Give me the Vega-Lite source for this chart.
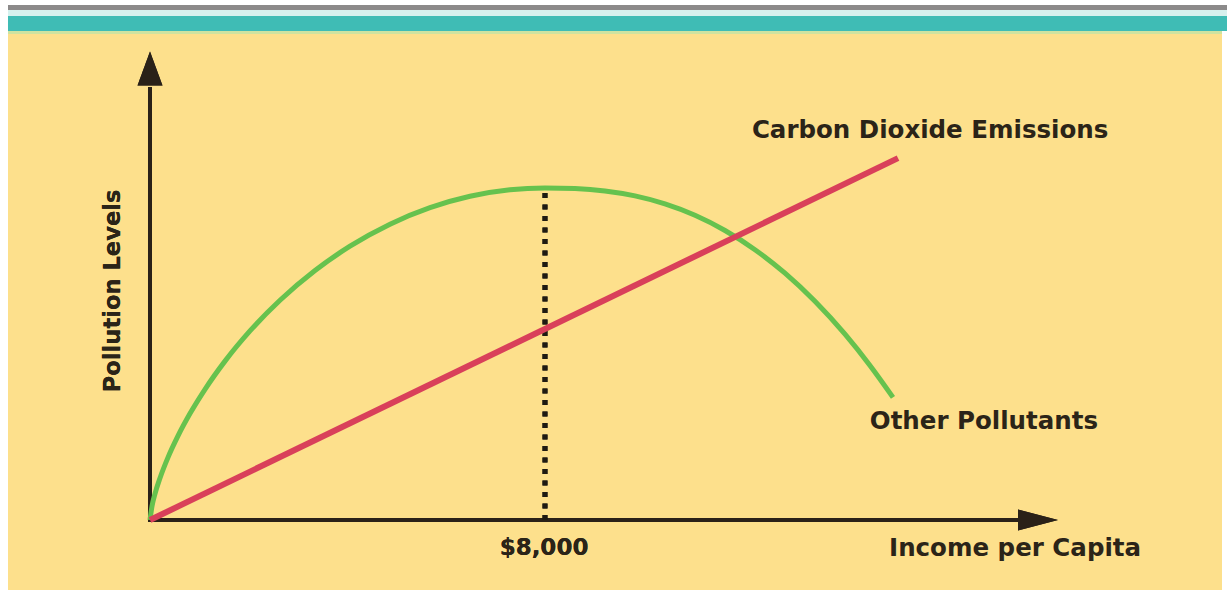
{
  "$schema": "https://vega.github.io/schema/vega-lite/v6.json",
  "width": 1227,
  "height": 590,
  "autosize": {"type": "fit", "contains": "padding"},
  "padding": 0,
  "background": "#ffffff",
  "config": {"view": {"stroke": null}, "axis": {"disable": true}},
  "datasets": {
    "co2": [
      {"income": 0, "level": 0},
      {"income": 15150, "level": 109}
    ],
    "other": [
      {"income": 0, "level": 0},
      {"income": 41, "level": 4.2},
      {"income": 101, "level": 7.9},
      {"income": 203, "level": 12.65},
      {"income": 365, "level": 18.86},
      {"income": 567, "level": 25.33},
      {"income": 810, "level": 32.05},
      {"income": 1114, "level": 39.37},
      {"income": 1519, "level": 47.86},
      {"income": 2025, "level": 56.96},
      {"income": 2633, "level": 66.2},
      {"income": 3342, "level": 75.15},
      {"income": 4051, "level": 82.47},
      {"income": 4861, "level": 89.1},
      {"income": 5671, "level": 94.07},
      {"income": 6481, "level": 97.5},
      {"income": 7291, "level": 99.46},
      {"income": 8000, "level": 100},
      {"income": 8608, "level": 99.82},
      {"income": 9215, "level": 99.1},
      {"income": 9823, "level": 97.62},
      {"income": 10430, "level": 95.21},
      {"income": 11038, "level": 91.78},
      {"income": 11646, "level": 87.2},
      {"income": 12253, "level": 81.42},
      {"income": 12861, "level": 74.34},
      {"income": 13468, "level": 65.87},
      {"income": 14076, "level": 55.96},
      {"income": 14582, "level": 46.54},
      {"income": 15048, "level": 36.93}
    ],
    "labels": [
      {"text": "Carbon Dioxide Emissions", "income": 15800, "level": 117.2},
      {"text": "Other Pollutants", "income": 16890, "level": 29.5},
      {"text": "Income per Capita", "income": 17520, "level": -8.7}
    ]
  },
  "data": {"name": "co2"},
  "encoding": {
    "x": {"field": "income", "type": "quantitative", "scale": {"domain": [-3038, 21813], "nice": false, "zero": false}},
    "y": {"field": "level", "type": "quantitative", "scale": {"domain": [-21.08, 156.63], "nice": false, "zero": false}}
  },
  "layer": [
    {
      "mark": {"type": "rect", "color": "#fde08c"},
      "encoding": {
        "x": {"datum": -2876}, "x2": {"datum": 21711},
        "y": {"datum": 146.4}, "y2": {"datum": -21.08}
      }
    },
    {
      "mark": {"type": "rect", "color": "#8c8a8a"},
      "encoding": {
        "x": {"datum": -2876}, "x2": {"datum": 21813},
        "y": {"datum": 155.1}, "y2": {"datum": 153.6}
      }
    },
    {
      "mark": {"type": "rect", "color": "#d6f1ee"},
      "encoding": {
        "x": {"datum": -2876}, "x2": {"datum": 21813},
        "y": {"datum": 153.6}, "y2": {"datum": 151.8}
      }
    },
    {
      "mark": {"type": "rect", "color": "#3fbcb5"},
      "encoding": {
        "x": {"datum": -2876}, "x2": {"datum": 21813},
        "y": {"datum": 151.8}, "y2": {"datum": 147.3}
      }
    },
    {
      "mark": {"type": "rect", "color": "#cfe3a0"},
      "encoding": {
        "x": {"datum": -2876}, "x2": {"datum": 21711},
        "y": {"datum": 147.3}, "y2": {"datum": 146.4}
      }
    },
    {
      "mark": {"type": "rule", "color": "#2a2118", "strokeWidth": 4},
      "encoding": {
        "x": {"datum": 0},
        "y": {"datum": -0.6}, "y2": {"datum": 130.4}
      }
    },
    {
      "mark": {"type": "rule", "color": "#2a2118", "strokeWidth": 4},
      "encoding": {
        "x": {"datum": -40}, "x2": {"datum": 17620},
        "y": {"datum": 0}
      }
    },
    {
      "mark": {"type": "point", "shape": "M0,-1L0.735,1L-0.735,1Z", "size": 1156, "filled": true, "color": "#2a2118", "opacity": 1},
      "encoding": {"x": {"datum": 0}, "y": {"datum": 136}}
    },
    {
      "mark": {"type": "point", "shape": "M1,0L-1,-0.525L-1,0.525Z", "size": 1600, "filled": true, "color": "#2a2118", "opacity": 1},
      "encoding": {"x": {"datum": 17985}, "y": {"datum": 0}}
    },
    {
      "mark": {"type": "rule", "color": "#1e1a12", "strokeWidth": 5, "strokeDash": [5, 6.5]},
      "encoding": {
        "x": {"datum": 8000},
        "y": {"datum": 98.5}, "y2": {"datum": 0}
      }
    },
    {
      "data": {"name": "other"},
      "mark": {"type": "line", "color": "#66c24e", "strokeWidth": 5, "interpolate": "monotone"}
    },
    {
      "mark": {"type": "line", "color": "#d9405a", "strokeWidth": 6}
    },
    {
      "data": {"name": "labels"},
      "mark": {"type": "text", "font": "DejaVu Sans", "fontWeight": "bold", "fontSize": 24.5, "color": "#2b2418", "align": "center", "baseline": "middle"},
      "encoding": {"text": {"field": "text"}}
    },
    {
      "mark": {"type": "text", "font": "DejaVu Sans", "fontWeight": "bold", "fontSize": 23, "color": "#2b2418", "align": "center", "baseline": "middle", "text": "$8,000"},
      "encoding": {"x": {"datum": 7980}, "y": {"datum": -8.4}}
    },
    {
      "mark": {"type": "text", "font": "DejaVu Sans", "fontWeight": "bold", "fontSize": 22.6, "color": "#2b2418", "align": "center", "baseline": "middle", "angle": 270, "text": "Pollution Levels"},
      "encoding": {"x": {"datum": -750}, "y": {"datum": 69.0}}
    }
  ]
}
